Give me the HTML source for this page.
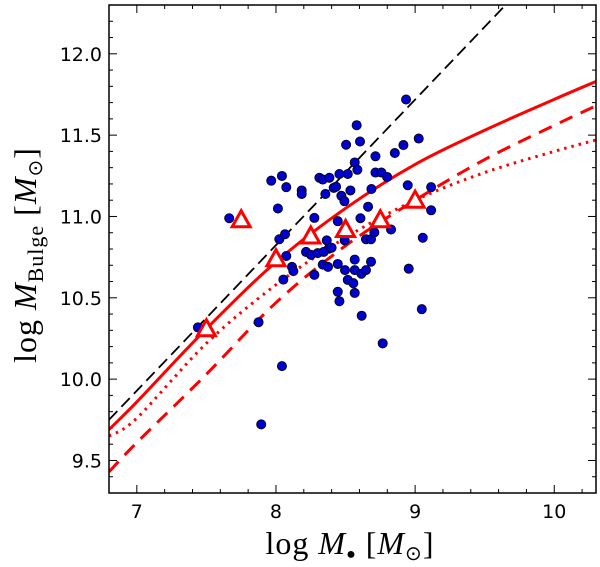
<!DOCTYPE html>
<html><head><meta charset="utf-8"><style>
body{margin:0;background:#fff;}
svg{display:block;}
</style></head><body>
<svg id="chart" width="600" height="567" xmlns="http://www.w3.org/2000/svg">
<rect width="600" height="567" fill="#fff"/>
<g id="ticks"></g>
<g id="lines"></g>
<g id="pts"></g>
<g id="tris"></g>
<rect x="109" y="5" width="487" height="488" fill="none" stroke="#000" stroke-width="1.5"/>
<g id="labels" font-family="DejaVu Sans, sans-serif" font-size="19"></g>
<text x="350" y="554" text-anchor="middle" font-family="Liberation Serif, serif" font-size="32" letter-spacing="1">log <tspan font-style="italic">M</tspan><tspan font-size="16" dy="5">●</tspan><tspan dy="-5"> [</tspan><tspan font-style="italic">M</tspan><tspan font-size="20" dy="6">⊙</tspan><tspan dy="-6">]</tspan></text>
<text transform="translate(36,255) rotate(-90)" text-anchor="middle" font-family="Liberation Serif, serif" font-size="32" letter-spacing="1">log <tspan font-style="italic">M</tspan><tspan font-size="22" dy="7">Bulge</tspan><tspan dy="-7"> [</tspan><tspan font-style="italic">M</tspan><tspan font-size="20" dy="6">⊙</tspan><tspan dy="-6">]</tspan></text>
</svg>
<script>
const xTicks=[7,8,9,10];
const yTicks=[9.5,10.0,10.5,11.0,11.5,12.0];
const galX=[7.664,7.439,7.875,7.894,8.043,7.966,8.043,8.074,8.014,8.024,8.065,8.074,8.115,8.125,8.053,8.185,8.185,8.276,8.216,8.252,8.300,8.276,8.336,8.374,8.312,8.336,8.355,8.384,8.415,8.432,8.456,8.470,8.492,8.516,8.535,8.566,8.580,8.604,8.504,8.585,8.444,8.365,8.379,8.400,8.343,8.494,8.496,8.566,8.566,8.516,8.556,8.566,8.444,8.456,8.444,8.614,8.647,8.683,8.647,8.683,8.707,8.662,8.607,8.686,8.715,8.715,8.758,8.799,8.854,8.916,8.935,9.026,8.947,8.827,9.115,9.115,9.055,8.954,9.048,8.616,8.767];
const galY=[10.989,10.318,10.350,9.722,10.080,11.220,11.249,11.180,11.049,10.860,10.891,10.757,10.690,10.664,10.612,11.160,11.138,10.991,10.782,10.764,10.775,10.641,10.704,10.690,11.238,11.227,11.138,11.238,11.176,11.183,11.261,11.127,11.094,11.261,11.160,11.332,11.561,11.461,11.441,11.287,10.971,10.853,10.802,10.808,10.782,10.853,10.670,10.735,10.670,10.610,10.590,10.530,10.537,10.479,10.708,10.648,10.670,10.722,10.860,10.860,10.902,11.060,10.989,11.169,11.370,11.270,11.270,11.243,11.390,11.439,11.719,11.479,11.192,10.920,11.180,11.038,10.869,10.679,10.430,10.390,10.220];
const triX=[7.5,7.75,8.0,8.25,8.5,8.75,9.0];
const triY=[10.31,10.98,10.74,10.88,10.92,10.98,11.10];
const curveX=[6.8,7.0,7.5,8.0,8.5,9.0,9.5,10.0,10.3];
const solidY=[9.69,9.86,10.31,10.72,11.05,11.32,11.53,11.72,11.83];
const dashY=[9.43,9.61,10.03,10.47,10.82,11.10,11.35,11.56,11.68];
const dotY=[9.65,9.76,10.22,10.58,10.87,11.10,11.27,11.40,11.47];
const refX=[6.8,9.65];
const refY=[9.75,12.30];

const L=109,R=596,T=5,B=493,X0=6.8,X1=10.3,Y0=9.3,Y1=12.3;
const sx=v=>L+(v-X0)/(X1-X0)*(R-L);
const sy=v=>B-(v-Y0)/(Y1-Y0)*(B-T);
const NS='http://www.w3.org/2000/svg';
function mk(tag,attrs,parent){const e=document.createElementNS(NS,tag);for(const k in attrs)e.setAttribute(k,attrs[k]);document.getElementById(parent).appendChild(e);return e;}

for(let v=6.8;v<=10.31;v+=0.2){const x=sx(v);const major=Math.abs(v-Math.round(v))<0.01;const len=major?8:4;
 const t1=mk('line',{x1:x,x2:x,y1:B,y2:B-len,stroke:'#000','stroke-width':1},'ticks');
 
 
 const t2=mk('line',{x1:x,x2:x,y1:T,y2:T+len,stroke:'#000','stroke-width':1},'ticks');
 
 }
for(let v=9.3;v<=12.31;v+=0.1){const y=sy(v);const major=Math.abs(v*2-Math.round(v*2))<0.01;const len=major?8:4;
 const t1=mk('line',{x1:L,x2:L+len,y1:y,y2:y,stroke:'#000','stroke-width':1},'ticks');
 
 
 const t2=mk('line',{x1:R,x2:R-len,y1:y,y2:y,stroke:'#000','stroke-width':1},'ticks');
 
 }
xTicks.forEach(v=>{const t=mk('text',{x:sx(v),y:518,'text-anchor':'middle'},'labels');t.textContent=v;
 
 });
yTicks.forEach(v=>{const t=mk('text',{x:102,y:sy(v)+7,'text-anchor':'end'},'labels');t.textContent=v.toFixed(1);
 
 });

function smooth(xs,ys){const p=xs.map((x,i)=>[sx(x),sy(ys[i])]);let d='M'+p[0][0]+','+p[0][1];
 for(let i=0;i<p.length-1;i++){const p0=p[Math.max(i-1,0)],p1=p[i],p2=p[i+1],p3=p[Math.min(i+2,p.length-1)];
  d+=' C'+(p1[0]+(p2[0]-p0[0])/6)+','+(p1[1]+(p2[1]-p0[1])/6)+' '+(p2[0]-(p3[0]-p1[0])/6)+','+(p2[1]-(p3[1]-p1[1])/6)+' '+p2[0]+','+p2[1];}
 return d;}
const cp=mk('clipPath',{id:'clip'},'lines');
const cr=document.createElementNS(NS,'rect');cr.setAttribute('x',L);cr.setAttribute('y',T);cr.setAttribute('width',R-L);cr.setAttribute('height',B-T);cp.appendChild(cr);
const ref=mk('line',{x1:sx(refX[0]),y1:sy(refY[0]),x2:sx(refX[1]),y2:sy(refY[1]),stroke:'#000','stroke-width':1.8,'stroke-dasharray':'12,6','clip-path':'url(#clip)'},'lines');


const ls=mk('path',{d:smooth(curveX,solidY),fill:'none',stroke:'#f00','stroke-width':3,'clip-path':'url(#clip)'},'lines');


const ld=mk('path',{d:smooth(curveX,dashY),fill:'none',stroke:'#f00','stroke-width':3,'stroke-dasharray':'14,9','clip-path':'url(#clip)'},'lines');


const lt=mk('path',{d:smooth(curveX,dotY),fill:'none',stroke:'#f00','stroke-width':3,'stroke-dasharray':'2.5,5','clip-path':'url(#clip)'},'lines');



galX.forEach((x,i)=>{const c=mk('circle',{cx:sx(x),cy:sy(galY[i]),r:4.6,fill:'#0000cc',stroke:'#000','stroke-width':0.8},'pts');
 
 });
triX.forEach((x,i)=>{const cx=sx(x),cy=sy(triY[i]);
 const t=mk('polygon',{points:`${cx},${cy-9} ${cx-9},${cy+7} ${cx+9},${cy+7}`,fill:'#fff',stroke:'#f00','stroke-width':3,'stroke-linejoin':'miter'},'tris');
 
 });
</script>
</body></html>
